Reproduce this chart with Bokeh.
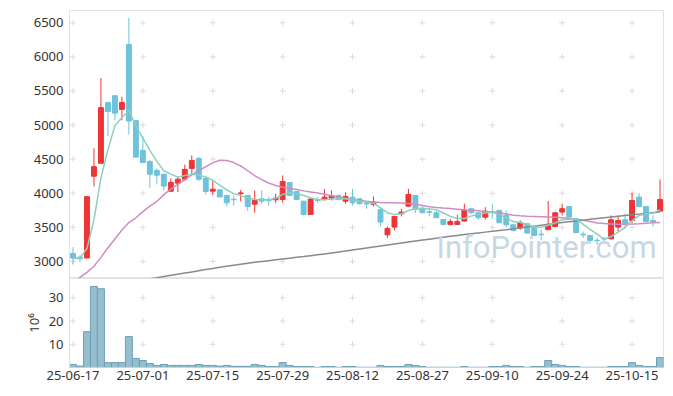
import pandas as pd
from bokeh.plotting import figure
from bokeh.layouts import column
from bokeh.models import ColumnDataSource, Range1d, FixedTicker, Label
from bokeh.embed import file_html
from bokeh.resources import INLINE

holidays = ["2025-08-15", "2025-10-03", "2025-10-06", "2025-10-07", "2025-10-08", "2025-10-09"]
dates = pd.bdate_range("2025-06-17", periods=85, freq="C", holidays=holidays).strftime("%y-%m-%d").tolist()

opens = [3117, 3063, 3050, 4250, 4440, 5330, 5430, 5230, 6180, 5065,
         4630, 4465, 4335, 4280, 4030, 4148, 4207, 4364, 4510, 4222,
         4031, 4050, 3968, 3912, 3995, 3968, 3840, 3919, 3905, 3905,
         3909, 4158, 4026, 3884, 3689, 3905, 3914, 3929, 3968, 3884,
         3943, 3919, 3850, 3836, 3758, 3391, 3504, 3699, 3811, 3968,
         3782, 3730, 3714, 3616, 3543, 3543, 3592, 3773, 3714, 3650,
         3730, 3748, 3675, 3538, 3489, 3553, 3504, 3400, 3465, 3513,
         3724, 3806, 3626, 3400, 3381, 3310, 3335, 3333, 3504, 3611,
         3601, 3943, 3806, 3600, 3738]
highs = [3210, 3090, 3953, 4660, 5690, 5330, 5435, 5415, 6570, 5065,
         4840, 4490, 4365, 4280, 4220, 4236, 4420, 4554, 4530, 4222,
         4187, 4050, 3968, 3968, 4050, 3968, 4041, 4041, 3943, 3992,
         4261, 4158, 4026, 3884, 3930, 3943, 4065, 4041, 3978, 4016,
         4065, 3919, 3880, 3953, 3797, 3513, 3665, 3773, 4065, 3968,
         3811, 3782, 3748, 3616, 3626, 3685, 3846, 3782, 3714, 3797,
         3846, 3760, 3748, 3538, 3601, 3553, 3504, 3465, 3884, 3730,
         3846, 3806, 3640, 3440, 3381, 3347, 3360, 3675, 3675, 3699,
         4007, 4002, 3806, 3675, 4202]
lows = [2956, 2990, 3048, 4100, 4440, 4840, 5070, 5070, 4860, 4530,
        4450, 4080, 4130, 4040, 4015, 4016, 4180, 4276, 4177, 3978,
        3978, 3945, 3806, 3820, 3880, 3740, 3714, 3846, 3821, 3855,
        3860, 3968, 3900, 3674, 3689, 3860, 3894, 3894, 3894, 3846,
        3821, 3840, 3773, 3806, 3513, 3347, 3455, 3660, 3811, 3708,
        3705, 3660, 3641, 3530, 3528, 3543, 3587, 3700, 3611, 3611,
        3626, 3567, 3504, 3440, 3465, 3416, 3370, 3308, 3465, 3500,
        3675, 3650, 3421, 3342, 3260, 3250, 3260, 3320, 3440, 3484,
        3567, 3806, 3587, 3513, 3738]
closes = [3050, 3040, 3950, 4390, 5255, 5200, 5175, 5330, 5060, 4530,
          4450, 4280, 4265, 4105, 4160, 4207, 4349, 4481, 4207, 4026,
          4060, 3945, 3860, 3905, 4005, 3806, 3894, 3884, 3890, 3929,
          4173, 3968, 3909, 3689, 3914, 3895, 3943, 3963, 3909, 3953,
          3860, 3846, 3843, 3870, 3577, 3484, 3660, 3724, 3982, 3762,
          3714, 3720, 3641, 3543, 3587, 3587, 3748, 3714, 3641, 3738,
          3720, 3567, 3538, 3455, 3567, 3416, 3381, 3392, 3538, 3714,
          3773, 3650, 3421, 3390, 3308, 3305, 3330, 3611, 3601, 3543,
          3894, 3806, 3587, 3580, 3909]
volumes = [1.3, 0.6, 15.4, 34.9, 33.9, 2.1, 2.1, 2.1, 13.3, 3.9,
           3.0, 1.7, 0.9, 1.3, 0.9, 0.9, 0.9, 0.9, 1.3, 0.9,
           0.9, 0.6, 0.9, 0.5, 0.5, 0.5, 1.3, 0.9, 0.4, 0.4,
           2.1, 0.9, 0.4, 0.4, 0.4, 0.1, 0.4, 0.4, 0.1, 0.4,
           0.4, 0.1, 0.1, 0.1, 0.9, 0.4, 0.4, 0.4, 1.3, 0.9,
           0.4, 0.1, 0.1, 0.1, 0.1, 0.1, 0.4, 0.1, 0.1, 0.1,
           0.4, 0.4, 0.9, 0.4, 0.4, 0.1, 0.4, 0.4, 3.0, 1.3,
           0.9, 0.4, 0.4, 0.1, 0.1, 0.1, 0.1, 0.4, 0.4, 0.4,
           2.1, 0.9, 0.4, 0.4, 4.3]
ma_short = [3045, 3050, 3190, 3610, 4230, 4640, 4990, 5110, 5210, 4990,
            4808, 4628, 4467, 4330, 4281, 4236, 4259, 4280, 4266, 4240,
            4190, 4120, 4050, 3995, 3965, 3930, 3910, 3905, 3905, 3925,
            3985, 4002, 3995, 3968, 3934, 3905, 3905, 3915, 3919, 3919,
            3900, 3885, 3868, 3850, 3785, 3715, 3687, 3699, 3745, 3780,
            3775, 3768, 3760, 3710, 3660, 3630, 3630, 3665, 3690, 3710,
            3722, 3690, 3640, 3585, 3570, 3545, 3504, 3500, 3530, 3570,
            3611, 3620, 3625, 3545, 3470, 3400, 3325, 3365, 3430, 3500,
            3595, 3675, 3700, 3708, 3758]
ma_mid = [2690, 2765, 2840, 2930, 3060, 3200, 3330, 3460, 3570, 3640,
          3730, 3810, 3880, 3980, 4060, 4130, 4200, 4270, 4330, 4390,
          4445, 4485, 4480, 4450, 4400, 4330, 4260, 4200, 4150, 4115,
          4090, 4070, 4055, 4035, 4020, 4005, 3985, 3965, 3945, 3928,
          3910, 3895, 3882, 3872, 3866, 3862, 3860, 3857, 3850, 3838,
          3820, 3803, 3792, 3783, 3775, 3767, 3758, 3750, 3742, 3733,
          3723, 3710, 3695, 3678, 3670, 3664, 3660, 3656, 3652, 3648,
          3640, 3630, 3620, 3605, 3585, 3565, 3555, 3550, 3545, 3545,
          3548, 3553, 3560, 3566, 3572]
ma_long_start = 8
ma_long = [2695, 2712, 2729, 2746, 2762, 2779, 2796, 2813, 2830, 2847,
           2864, 2881, 2898, 2914, 2929, 2944, 2959, 2974, 2988, 3000,
           3012, 3024, 3036, 3048, 3060, 3072, 3085, 3098, 3111, 3124,
           3137, 3152, 3167, 3182, 3197, 3212, 3227, 3242, 3257, 3271,
           3285, 3299, 3313, 3327, 3341, 3355, 3369, 3382, 3394, 3406,
           3418, 3430, 3442, 3454, 3466, 3479, 3492, 3505, 3518, 3531,
           3544, 3557, 3570, 3582, 3594, 3606, 3618, 3629, 3640, 3651,
           3662, 3673, 3684, 3694, 3704, 3714, 3724]
price_ticks = [3000, 3500, 4000, 4500, 5000, 5500, 6000, 6500]
volume_ticks = [10, 20, 30]
date_tick_idx = [0, 10, 20, 30, 40, 50, 60, 70, 80]

UP = "#ee3434"
DOWN = "#6cc3da"
FONT = "Noto Sans"
TXT = "#333333"

n = len(closes)
idx = list(range(n))
colors = [UP if c >= o else DOWN for o, c in zip(opens, closes)]
src = ColumnDataSource(dict(
    x=idx, high=highs, low=lows,
    top=[max(o, c) for o, c in zip(opens, closes)],
    bottom=[min(o, c) for o, c in zip(opens, closes)],
    color=colors))

p = figure(width=665, height=278, x_range=Range1d(-0.5, n - 0.5), y_range=Range1d(2750, 6680),
           output_backend="svg", toolbar_location=None,
           min_border_left=69, min_border_right=2, min_border_top=10, min_border_bottom=0)
p.xaxis.visible = False
p.grid.visible = False
p.outline_line_color = "#e2e2e2"
p.yaxis.ticker = FixedTicker(ticks=price_ticks)
p.yaxis.major_tick_out = 0
p.yaxis.major_tick_in = 0
p.yaxis.minor_tick_out = 0
p.yaxis.minor_tick_in = 0
p.yaxis.major_label_standoff = 6
p.yaxis.axis_line_color = "#e0e0e0"
p.yaxis.major_label_text_font = FONT
p.yaxis.major_label_text_font_size = "13px"
p.yaxis.major_label_text_color = TXT

# grid crosses
p.scatter(x=[t for t in date_tick_idx for _ in price_ticks], y=[v for _ in date_tick_idx for v in price_ticks],
          marker="cross", size=6, line_color="#dcdcdc", line_width=1)

p.add_layout(Label(x=367, y=13, x_units="screen", y_units="screen", text="InfoPointer.com",
                   text_font="Roboto", text_font_size="31px", text_color="#c6d8e4"))

p.segment(x0="x", y0="low", x1="x", y1="high", source=src, line_color="color", line_width=1)
p.vbar(x="x", top="top", bottom="bottom", width=0.7, source=src, fill_color="color", line_color="color")

p.line(idx, ma_mid, line_color="#cf8cc3", line_width=1.5)
p.line(list(range(ma_long_start, ma_long_start + len(ma_long))), ma_long, line_color="#8a8a8a", line_width=1.5)
p.line(idx, ma_short, line_color="#8ccfbe", line_width=1.5)

v = figure(width=665, height=104, x_range=p.x_range, y_range=Range1d(0, 38.3),
           output_backend="svg", toolbar_location=None,
           min_border_left=69, min_border_right=2, min_border_top=0, min_border_bottom=0)
v.grid.visible = False
v.outline_line_color = "#e2e2e2"
v.yaxis.ticker = FixedTicker(ticks=volume_ticks)
v.xaxis.ticker = FixedTicker(ticks=date_tick_idx)
v.xaxis.major_label_overrides = {i: dates[i] for i in date_tick_idx}
for ax in (v.xaxis[0], v.yaxis[0]):
    ax.major_tick_out = 0
    ax.major_tick_in = 0
    ax.minor_tick_out = 0
    ax.minor_tick_in = 0
    ax.major_label_text_font = FONT
    ax.major_label_text_font_size = "13px"
    ax.major_label_text_color = TXT
    ax.axis_line_color = "#d0d0d0"
v.yaxis.axis_line_color = "#e0e0e0"
v.yaxis.major_label_standoff = 6
v.xaxis.major_label_standoff = 3
v.yaxis.axis_label = "10\u2076"
v.yaxis.axis_label_text_font = FONT
v.yaxis.axis_label_text_font_size = "13px"
v.yaxis.axis_label_text_font_style = "normal"
v.yaxis.axis_label_text_color = TXT
v.yaxis.axis_label_standoff = 3

v.scatter(x=[t for t in date_tick_idx for _ in volume_ticks], y=[t2 for _ in date_tick_idx for t2 in volume_ticks],
          marker="cross", size=6, line_color="#dcdcdc", line_width=1)
v.vbar(x=idx, top=volumes, bottom=0, width=1.0, fill_color="#95bfcf", line_color="#6f9fb5", line_width=1)

layout = column(p, v, spacing=0)
open("out.html", "w").write(file_html(layout, INLINE))
